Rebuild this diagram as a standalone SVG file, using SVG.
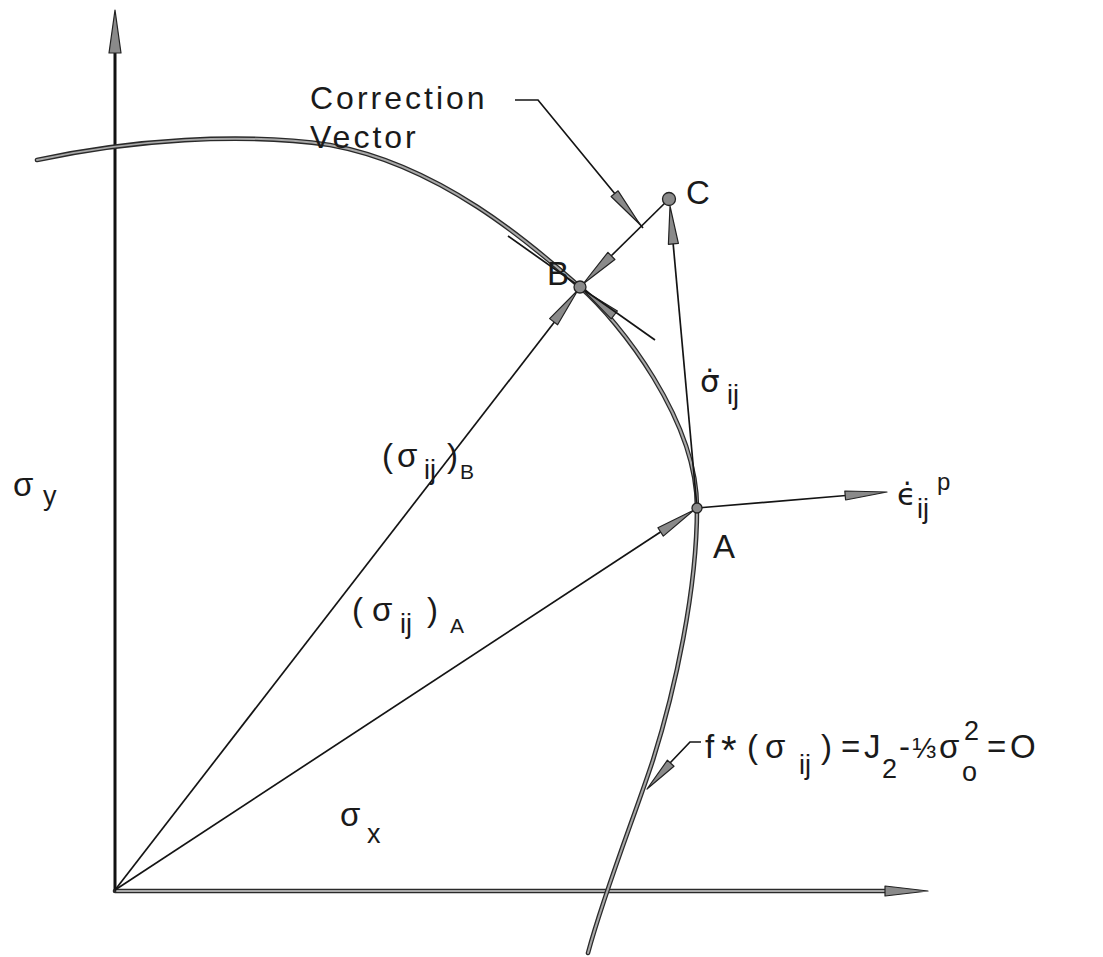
<svg xmlns="http://www.w3.org/2000/svg" width="1103" height="957" viewBox="0 0 1103 957">
<style>
text{font-family:"Liberation Sans","DejaVu Sans",sans-serif;fill:#1a1a1a}
.t{font-size:33px}
.sub{font-size:27px}
.dv{font-family:"DejaVu Sans",sans-serif;font-size:31px}
.lbl{font-size:32px;letter-spacing:3px}
.thin{stroke:#141414;stroke-width:1.7;fill:none}
.axis{stroke:#111;stroke-width:3;fill:none}
.dblo{stroke:#2a2a2a;stroke-width:4.6;fill:none;stroke-linecap:round}
.dbli{stroke:#a8a8a8;stroke-width:2;fill:none;stroke-linecap:round}
.ah{fill:#8a8a8a;stroke:#222;stroke-width:1.2;stroke-linejoin:round}
.dot{fill:#8a8a8a;stroke:#222;stroke-width:1.3}
</style>
<rect width="1103" height="957" fill="#fff"/>

<g id="axes">
  <line class="axis" x1="115" y1="891" x2="115" y2="50"/>
  <polygon class="ah" points="115,10 109,53 121,53"/>
  <line class="dblo" x1="115" y1="891" x2="888" y2="891"/>
  <line class="dbli" x1="117" y1="891" x2="886" y2="891"/>
  <polygon class="ah" points="928,891 885,886 885,896"/>
</g>

<g id="yield-surface">
  <path class="dblo" d="M37,160 C130,140 240,132 330,145 C440,165 530,243 580,287 C620,322 697,420 697,508 C697,590 675,690 653,760 C635,815 605,890 588,953"/>
  <path class="dbli" d="M37,160 C130,140 240,132 330,145 C440,165 530,243 580,287 C620,322 697,420 697,508 C697,590 675,690 653,760 C635,815 605,890 588,953"/>
</g>

<g id="connectors">
  <line class="thin" x1="115" y1="890" x2="556" y2="320"/>
  <polygon class="ah" points="578,290 557.6,324.8 549.6,318.6"/>
  <line class="thin" x1="115" y1="890" x2="662" y2="531"/>
  <polygon class="ah" points="694,510 663.3,536.1 657.9,527.7"/>
  <line class="thin" x1="697" y1="508" x2="846" y2="495.5"/>
  <polygon class="ah" points="887,492 845.6,500 844.8,491"/>
  <line class="thin" x1="697" y1="508" x2="673" y2="242"/>
  <polygon class="ah" points="670,206 678.4,243.4 668.4,244.3"/>
  <line class="thin" x1="669" y1="199" x2="611" y2="256"/>
  <polygon class="ah" points="583,284 607.9,252.3 614.9,259.5"/>
  <polygon class="ah" points="583,290 617.4,311 611.2,318.8"/>
  <line class="thin" x1="508" y1="236" x2="655" y2="340"/>
  <polyline class="thin" points="515,100 538,100 643,228"/>
  <polygon class="ah" points="640,224.5 611.1,196.5 618.1,190.8"/>
  <polyline class="thin" points="701,742 690,742 670,763"/>
  <polygon class="ah" points="647,789 667.4,760.2 674,766.2"/>
</g>

<g id="node-A">
  <circle class="dot" cx="697" cy="508" r="5"/>
  <text class="t" x="713" y="558">A</text>
</g>
<g id="node-B">
  <circle class="dot" cx="580" cy="287" r="6"/>
  <text class="t" x="547" y="285">B</text>
</g>
<g id="node-C">
  <circle class="dot" cx="669" cy="199" r="6.5"/>
  <text class="t" x="686" y="204">C</text>
</g>

<g id="labels">
  <text class="lbl" x="310" y="109">Correction</text>
  <text class="lbl" x="310" y="148">Vector</text>

  <text x="13" y="496"><tspan class="t">σ</tspan><tspan class="sub" x="43" y="505">y</tspan></text>
  <text x="340" y="826"><tspan class="t">σ</tspan><tspan class="sub" x="367" y="843">x</tspan></text>

  <text x="700" y="392"><tspan class="dv">σ̇</tspan><tspan class="sub" x="727" y="404">ij</tspan></text>
  <text x="897" y="505"><tspan class="dv">ϵ̇</tspan><tspan class="sub" x="917" y="518">ij</tspan><tspan style="font-size:24px" x="937" y="490">p</tspan></text>

  <text x="382" y="467"><tspan class="t">(</tspan><tspan class="t" x="397">σ</tspan><tspan class="sub" x="424" y="479">ij</tspan><tspan class="t" x="447" y="467">)</tspan><tspan style="font-size:21px" x="460" y="479">B</tspan></text>
  <text x="352" y="621"><tspan class="t">(</tspan><tspan class="t" x="372">σ</tspan><tspan class="sub" x="400" y="633">ij</tspan><tspan class="t" x="427" y="621">)</tspan><tspan style="font-size:21px" x="450" y="633">A</tspan></text>

  <text x="705" y="758"><tspan class="t">f</tspan><tspan class="t" x="721" y="764" style="font-size:40px">*</tspan><tspan class="t" x="747" y="758">(</tspan><tspan class="t" x="765">σ</tspan><tspan class="sub" x="799" y="774">ij</tspan><tspan class="t" x="821" y="758">)</tspan><tspan class="t" x="841">=</tspan><tspan class="t" x="864">J</tspan><tspan class="sub" x="882" y="778">2</tspan><tspan class="t" x="899" y="758">-</tspan><tspan style="font-size:29px" x="912" y="758">⅓</tspan><tspan class="t" x="939">σ</tspan><tspan class="sub" x="962" y="781">o</tspan><tspan class="sub" x="964" y="740">2</tspan><tspan class="t" x="987" y="758">=</tspan><tspan class="t" x="1010">O</tspan></text>
</g>
</svg>
